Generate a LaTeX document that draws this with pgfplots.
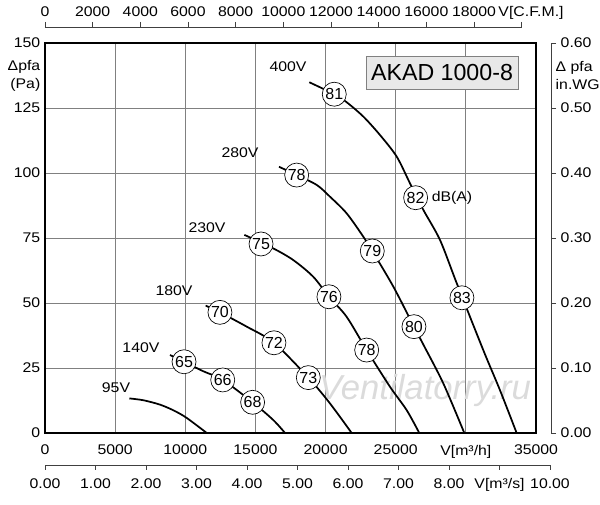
\documentclass[border=0pt]{standalone}
\usepackage{fontspec}
\setmainfont{Liberation Sans}
\newfontfamily\widefont{Liberation Sans}[FakeStretch=1.13]
\newfontfamily\wmfont{Liberation Sans}
\usepackage{pgfplots}
\pgfplotsset{compat=1.18}
\pgfplotsset{every axis/.append style={scaled ticks=false}}
\begin{document}
\begin{tikzpicture}
\path[use as bounding box] (-33.75pt,-54pt) rectangle (416.25pt,324.75pt);
% top CFM axis
\begin{axis}[at={(0pt,0pt)}, anchor=south west, scale only axis,
  width=357.5pt, height=304.5pt, xmin=0, xmax=20000, ymin=0, ymax=1,
  axis x line*=top, axis y line=none, ytick=\empty,
  axis line style={-, black!75, line width=0.6pt},
  xtick={0,2000,...,20000},
  xticklabels={0,2000,4000,6000,8000,10000,12000,14000,16000,18000,{\raisebox{0pt}[\height][0pt]{\hspace*{14pt}V[C.F.M.]}}},
  tick align=outside, major tick length=3.75pt,
  tick style={black!75, line width=0.6pt},
  tick label style={font=\widefont\fontsize{10.5}{13.5}\selectfont},
  xticklabel style={yshift=0.5pt},
  /pgf/number format/assume math mode=true]
\end{axis}
% bottom m3/s axis
\begin{axis}[at={(0pt,-24pt)}, anchor=south west, scale only axis,
  width=378.75pt, height=10pt, xmin=0, xmax=10, ymin=0, ymax=1,
  axis x line*=bottom, axis y line=none, ytick=\empty,
  axis line style={-, black!75, line width=0.6pt},
  xtick={0,1,...,10},
  xticklabels={0.00,1.00,2.00,3.00,4.00,5.00,6.00,7.00,8.00,{V[m³/s]},10.00},
  tick align=outside, major tick length=3.75pt,
  tick style={black!75, line width=0.6pt},
  tick label style={font=\widefont\fontsize{10.5}{13.5}\selectfont},
  xticklabel style={yshift=-3pt},
  /pgf/number format/assume math mode=true]
\end{axis}
% right in.WG axis
\begin{axis}[at={(0pt,0pt)}, anchor=south west, scale only axis,
  width=379.5pt, height=292.5pt, xmin=0, xmax=1, ymin=0, ymax=0.6,
  axis y line*=right, axis x line=none, xtick=\empty,
  axis line style={-, black!75, line width=0.6pt},
  ytick={0,0.1,0.2,0.3,0.4,0.5,0.6},
  yticklabels={0.00,0.10,0.20,0.30,0.40,0.50,0.60},
  extra y ticks={0.55}, extra y tick labels={{Δ pfa\\in.WG}},
  extra y tick style={major tick length=0pt, yticklabel style={align=left}},
  tick align=outside, major tick length=3.75pt,
  tick style={black!75, line width=0.6pt},
  tick label style={font=\widefont\fontsize{10.5}{13.5}\selectfont},
  /pgf/number format/assume math mode=true]
\end{axis}
% main axis
\begin{axis}[at={(0pt,0pt)}, anchor=south west, scale only axis,
  width=368.25pt, height=292.5pt,
  xmin=0, xmax=35000, ymin=0, ymax=150,
  axis line style={line width=1.4pt},
  grid=major, grid style={gray, line width=0.6pt},
  major tick length=0pt,
  xtick={0,5000,...,35000},
  xticklabels={0,5000,10000,15000,20000,25000,{V[m³/h]},35000},
  ytick={0,25,...,150},
  extra y ticks={137.5}, extra y tick labels={{Δpfa\\(Pa)}},
  extra y tick style={grid=none, yticklabel style={align=right}},
  tick label style={font=\widefont\fontsize{10.5}{13.5}\selectfont},
  xticklabel style={yshift=-5.5pt},
  /pgf/number format/assume math mode=true,
  clip=false]
% watermark
\node[font=\wmfont\itshape\fontsize{26}{26}\selectfont, text=black!14] at (axis cs:27090,16.5) {Ventilatorry.ru};
% curves
\addplot[black, line width=1.3pt, smooth, tension=0.5] coordinates {
 (18840,134.9) (20620,130.3) (21460,127.4) (22690,121.7) (23880,114.6) (25070,106.3) (26020,96.0) (26970,85.8) (28160,74.2) (29350,57.6) (31240,31.9) (32430,16.5) (33620,0)};
\addplot[black, line width=1.3pt, smooth, tension=0.5] coordinates {
 (16680,102.4) (17940,99.2) (19370,95.4) (20310,90.9) (21500,84.5) (22690,75.5) (23330,70.0) (24830,56.3) (26300,40.9) (26970,34.0) (28390,19.1) (29890,0)};
\addplot[black, line width=1.3pt, smooth, tension=0.5] coordinates {
 (14210,76.2) (16270,71.0) (17700,66.5) (19120,60.1) (20240,52.4) (21500,44.7) (22930,31.9) (24590,17.8) (25780,8.8) (26680,0)};
\addplot[black, line width=1.3pt, smooth, tension=0.5] coordinates {
 (11450,49.0) (12470,46.4) (14380,40.9) (16320,34.7) (18770,21.3) (20310,11.4) (21860,0)};
\addplot[black, line width=1.3pt, smooth, tension=0.5] coordinates {
 (8910,30.0) (9910,27.4) (11260,23.8) (12670,20.4) (14800,11.8) (16270,5.0) (17110,0)};
\addplot[black, line width=1.3pt, smooth, tension=0.5] coordinates {
 (6010,13.3) (7010,12.6) (8200,10.9) (9200,8.6) (10100,5.8) (11530,0)};
% dB(A) circles
\addplot[only marks, mark=none, nodes near coords, point meta=explicit symbolic,
  nodes near coords style={circle, draw=black, fill=white, line width=0.5pt,
  minimum size=18pt, inner sep=0pt, anchor=center, font=\fontsize{12}{12}\selectfont}]
  table[meta=l] {
x y l
20620 130.3 81
26420 90.5 82
29720 52.0 83
17940 99.2 78
23330 70.0 79
26300 40.9 80
15400 72.7 75
20240 52.4 76
22930 31.9 78
12470 46.4 70
16320 34.7 72
18770 21.3 73
9910 27.4 65
12670 20.4 66
14800 11.8 68
};
% labels
\node[font=\widefont\fontsize{10.5}{12}\selectfont] at (axis cs:17320,140.8) {400V};
\node[font=\widefont\fontsize{10.5}{12}\selectfont] at (axis cs:13900,107.7) {280V};
\node[font=\widefont\fontsize{10.5}{12}\selectfont] at (axis cs:11550,78.8) {230V};
\node[font=\widefont\fontsize{10.5}{12}\selectfont] at (axis cs:9200,54.6) {180V};
\node[font=\widefont\fontsize{10.5}{12}\selectfont] at (axis cs:6840,32.7) {140V};
\node[font=\widefont\fontsize{10.5}{12}\selectfont] at (axis cs:5060,17.3) {95V};
\node[font=\widefont\fontsize{10.5}{12}\selectfont] at (axis cs:29010,90.4) {dB(A)};
\node[draw=gray, fill=black!9, line width=0.5pt, font=\fontsize{17.4}{18}\selectfont,
  minimum width=114pt, minimum height=24.75pt, inner sep=0pt] at (axis cs:28300,138.7) {AKAD 1000-8};
\end{axis}
\end{tikzpicture}
\end{document}
